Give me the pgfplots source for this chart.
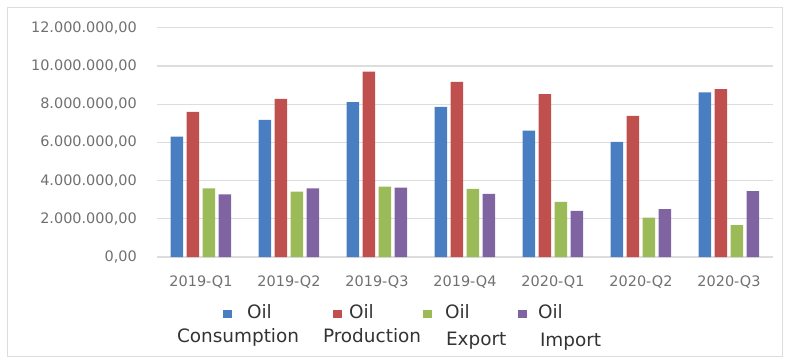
\documentclass[border=0pt]{standalone}
\usepackage{pgfplots}
\usepackage{pgfplotstable}
\pgfplotsset{compat=1.18}
\usepackage{fontspec}
\setmainfont{DejaVu Sans}
\definecolor{cblue}{HTML}{4A7EC2}
\definecolor{cred}{HTML}{C0504D}
\definecolor{cgreen}{HTML}{9BBB59}
\definecolor{cpurple}{HTML}{8064A2}
\definecolor{gridgray}{HTML}{DDDDDD}
\definecolor{tickgray}{HTML}{707070}
\definecolor{legtext}{HTML}{333333}

\pgfplotstableread{
q cons prod exp imp
0 6300000 7600000 3590000 3280000
1 7170000 8280000 3420000 3590000
2 8110000 9700000 3680000 3630000
3 7860000 9170000 3560000 3300000
4 6610000 8530000 2890000 2410000
5 6030000 7380000 2060000 2500000
6 8620000 8790000 1670000 3450000
}\data

% legend text: gap before Oil, shift of second line, cell width, second word, extra drop of second line
\newcommand{\lgt}[5]{\makebox[#3bp][l]{\begin{tabular}[t]{@{}l@{}}\hspace*{#1bp}Oil\\[#5bp]\hspace*{#2bp}#4\end{tabular}}}

\pgfplotsset{sq/.style={legend image code/.code={\fill[##1] (0bp,1bp) rectangle (9bp,9bp);}}}

\begin{document}
\begin{tikzpicture}
\path[use as bounding box] (-157bp,-101bp) rectangle (629bp,257bp);
\draw[gridgray, line width=1bp] (-149bp,-99bp) rectangle (625bp,249bp);
\begin{axis}[
  scale only axis, width=616bp, height=229.3bp,
  xmin=-0.5, xmax=6.5, ymin=0, ymax=12000000,
  ybar=3.5bp, bar width=12.5bp,
  axis line style={draw=none},
  tick style={draw=none},
  ymajorgrids, major grid style={draw=gridgray, line width=1.2bp},
  scaled y ticks=false,
  xtick={0,1,2,3,4,5,6},
  xticklabels={2019-Q1,2019-Q2,2019-Q3,2019-Q4,2020-Q1,2020-Q2,2020-Q3},
  ytick={0,2000000,4000000,6000000,8000000,10000000,12000000},
  yticklabels={{0,00},{2.000.000,00},{4.000.000,00},{6.000.000,00},{8.000.000,00},{10.000.000,00},{12.000.000,00}},
  yticklabel style={font=\fontsize{14.5}{16}\selectfont, text=tickgray, anchor=east, inner sep=0pt, xshift=-20bp},
  xticklabel style={font=\fontsize{14.5}{16}\selectfont, text=tickgray, anchor=north, inner sep=0pt, yshift=-14bp},
  legend columns=4,
  legend style={at={(0,0)}, anchor=north west, xshift=66bp, yshift=-45.2bp,
    draw=none, fill=none, inner sep=0pt, outer sep=0pt,
    column sep=0pt, row sep=0pt,
    font=\fontsize{18.5}{24}\selectfont, text=legtext,
    nodes={inner sep=0pt, outer sep=0pt},
    cells={anchor=base west}},
]
\addplot[fill=cblue, draw=none, sq] table[x=q, y=cons] {\data};
\addlegendentry{\lgt{15}{-55}{101}{Consumption}{0}}
\addplot[fill=cred, draw=none, sq] table[x=q, y=prod] {\data};
\addlegendentry{\lgt{7}{-19}{81}{Production}{0}}
\addplot[fill=cgreen, draw=none, sq] table[x=q, y=exp] {\data};
\addlegendentry{\lgt{13}{14}{86}{Export}{3}}
\addplot[fill=cpurple, draw=none, sq] table[x=q, y=imp] {\data};
\addlegendentry{\lgt{11}{13}{90}{Import}{4}}
\end{axis}
\end{tikzpicture}
\end{document}
